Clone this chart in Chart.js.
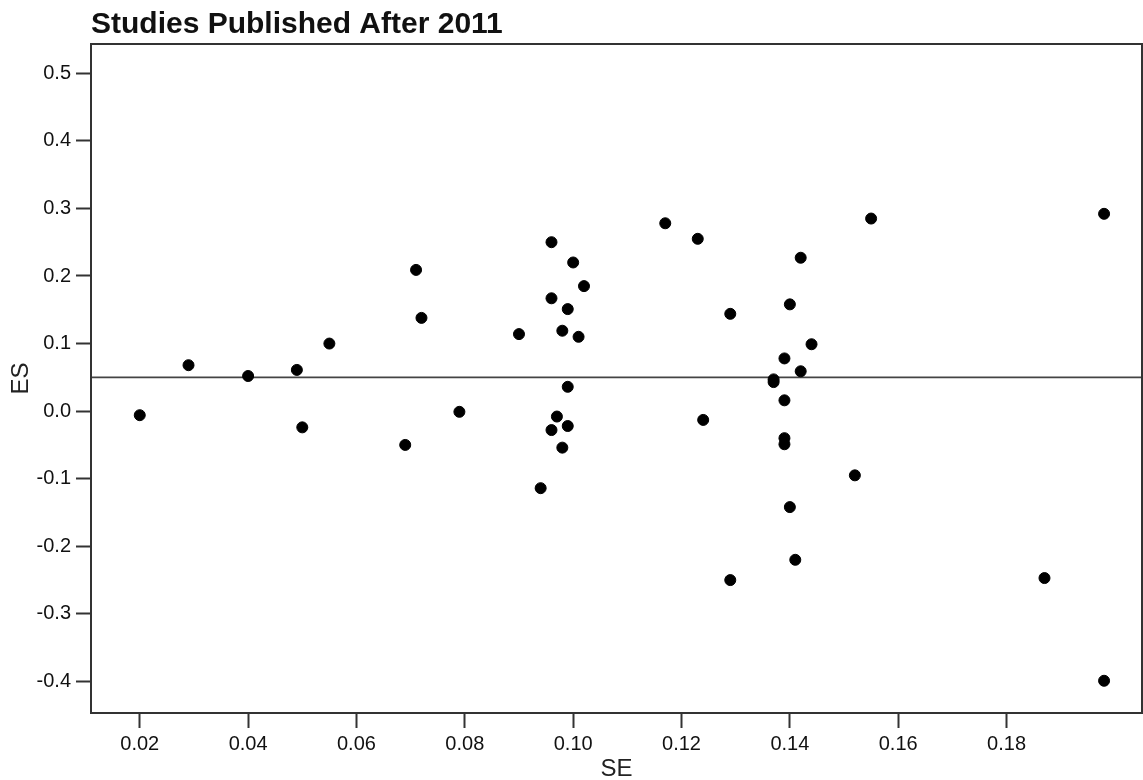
<!DOCTYPE html>
<html>
<head>
<meta charset="utf-8">
<script src="https://cdn.jsdelivr.net/npm/chart.js@4"></script>
<style>
  html, body { margin: 0; padding: 0; background: #fff; overflow: hidden; }
  #wrap { width: 1143px; height: 780px; position: relative; }
</style>
</head>
<body>
<div id="wrap"><canvas id="funnel"></canvas></div>
<script>
// data
const chartTitle = 'Studies Published After 2011';
const seValues = [
  0.020, 0.029, 0.040, 0.049, 0.050, 0.055, 0.071, 0.072, 0.069, 0.079,
  0.090, 0.096, 0.100, 0.102, 0.096, 0.099, 0.098, 0.101, 0.099, 0.097,
  0.099, 0.096, 0.098, 0.094, 0.117, 0.123, 0.129, 0.124, 0.129, 0.142,
  0.140, 0.144, 0.139, 0.142, 0.137, 0.137, 0.139, 0.139, 0.139, 0.140,
  0.141, 0.152, 0.155, 0.187, 0.198, 0.198
];
const esValues = [
  -0.006, 0.068, 0.052, 0.061, -0.024, 0.100, 0.209, 0.138, -0.050, -0.001,
  0.114, 0.250, 0.220, 0.185, 0.167, 0.151, 0.119, 0.110, 0.036, -0.008,
  -0.022, -0.028, -0.054, -0.114, 0.278, 0.255, 0.144, -0.013, -0.250, 0.227,
  0.158, 0.099, 0.078, 0.059, 0.047, 0.043, 0.016, -0.040, -0.049, -0.142,
  -0.220, -0.095, 0.285, -0.247, 0.292, -0.399
];
const refES = 0.05;
const xTicks = [0.02, 0.04, 0.06, 0.08, 0.10, 0.12, 0.14, 0.16, 0.18];
const yTicks = [-0.4, -0.3, -0.2, -0.1, 0.0, 0.1, 0.2, 0.3, 0.4, 0.5];
const xMin = 0.011, xMax = 0.205;
const yMin = -0.4467, yMax = 0.5433;

const points = seValues.map((se, i) => ({ x: se, y: esValues[i] }));

const fontFam = '"Liberation Sans", Arial, sans-serif';
const axisCol = '#333';

// title at the left of the plot box, plus the frame around the plot
const framePlugin = {
  id: 'frame',
  afterDraw(chart) {
    const { ctx, chartArea } = chart;
    ctx.save();
    ctx.strokeStyle = axisCol;
    ctx.lineWidth = 2;
    ctx.strokeRect(chartArea.left, chartArea.top, chartArea.right - chartArea.left, chartArea.bottom - chartArea.top);
    ctx.fillStyle = '#111';
    ctx.font = 'bold 30px ' + fontFam;
    ctx.textAlign = 'left';
    ctx.textBaseline = 'alphabetic';
    ctx.fillText(chartTitle, chartArea.left, 33);
    ctx.restore();
  }
};

new Chart(document.getElementById('funnel').getContext('2d'), {
  type: 'scatter',
  data: {
    datasets: [
      {
        label: 'Studies',
        data: points,
        backgroundColor: '#000',
        borderColor: '#000',
        pointRadius: 5.5,
        pointHoverRadius: 5.5,
        order: 1,
      },
      {
        type: 'line',
        label: 'Mean ES',
        data: [{ x: xMin, y: refES }, { x: xMax, y: refES }],
        borderColor: '#444',
        borderWidth: 1.8,
        pointRadius: 0,
        order: 2,
      },
    ],
  },
  options: {
    responsive: true,
    maintainAspectRatio: false,
    animation: false,
    layout: { autoPadding: false, padding: { top: 44, right: 1, left: 0, bottom: 0 } },
    scales: {
      x: {
        type: 'linear',
        min: xMin,
        max: xMax,
        afterBuildTicks: (scale) => { scale.ticks = xTicks.map(v => ({ value: v })); },
        afterFit: (scale) => {
          scale.height = 67;
          scale.paddingLeft = 0;
          scale.paddingRight = 0;
        },
        grid: { drawOnChartArea: false, drawTicks: true, tickLength: 15, tickColor: axisCol, tickWidth: 2 },
        border: { display: true, color: axisCol, width: 2 },
        ticks: {
          padding: 4,
          color: '#111',
          font: { family: fontFam, size: 20 },
          maxRotation: 0,
          autoSkip: false,
          callback: (v) => Number(v).toFixed(2),
        },
        title: {
          display: true,
          text: 'SE',
          color: '#222',
          font: { family: fontFam, size: 24, lineHeight: 0.9 },
          padding: { top: 0, bottom: 0 },
        },
      },
      y: {
        type: 'linear',
        min: yMin,
        max: yMax,
        afterBuildTicks: (scale) => { scale.ticks = yTicks.map(v => ({ value: v })); },
        afterFit: (scale) => {
          scale.width = 91;
          scale.paddingTop = 0;
          scale.paddingBottom = 0;
        },
        grid: { drawOnChartArea: false, drawTicks: true, tickLength: 15, tickColor: axisCol, tickWidth: 2 },
        border: { display: true, color: axisCol, width: 2 },
        ticks: {
          padding: 5,
          color: '#111',
          font: { family: fontFam, size: 20 },
          autoSkip: false,
          callback: (v) => Number(v).toFixed(1),
        },
        title: {
          display: true,
          text: 'ES',
          color: '#222',
          font: { family: fontFam, size: 24, lineHeight: 1.2 },
          padding: { top: 7, bottom: 0 },
        },
      },
    },
    plugins: {
      legend: { display: false },
      title: { display: false },
      tooltip: { enabled: false },
    },
  },
  plugins: [framePlugin],
});
</script>
</body>
</html>
